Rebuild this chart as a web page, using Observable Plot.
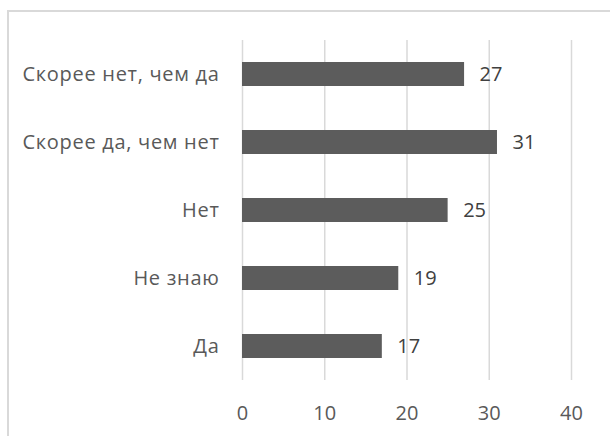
<!DOCTYPE html>
<html><head><meta charset="utf-8">
<script src="https://cdn.jsdelivr.net/npm/d3@7"></script>
<script src="https://cdn.jsdelivr.net/npm/@observablehq/plot@0.6"></script>
<style>
body{margin:0;background:#fff;width:610px;height:436px;overflow:hidden;position:relative;}
#frame{position:absolute;left:7px;top:10px;width:700px;height:600px;border-top:2px solid #d9d9d9;border-left:2px solid #d9d9d9;pointer-events:none;}
#chart{position:absolute;left:0;top:0;}
.ylab text{letter-spacing:0.7px;}
</style></head>
<body>
<div id="chart"></div>
<div id="frame"></div>
<script>
const categories = ["Скорее нет, чем да", "Скорее да, чем нет", "Нет", "Не знаю", "Да"];
const values = [27, 31, 25, 19, 17];
const xTicks = [0, 10, 20, 30, 40];

const data = categories.map((c, i) => ({cat: c, val: values[i]}));

const chart = Plot.plot({
  width: 610,
  height: 436,
  marginTop: 40,
  marginBottom: 56,
  marginLeft: 242,
  marginRight: 39,
  style: {fontFamily: "'Open Sans', sans-serif", fontSize: "20px", color: "#595959", background: "transparent"},
  x: {domain: [0, 40], ticks: xTicks, label: null},
  y: {domain: categories, label: null, paddingInner: 0.65, paddingOuter: 0.325},
  marks: [
    Plot.gridX(xTicks, {stroke: "#d9d9d9", strokeOpacity: 1, strokeWidth: 1.5}),
    Plot.barX(data, {x: "val", y: "cat", fill: "#5c5c5c"}),
    Plot.text(data, {x: "val", y: "cat", text: d => String(d.val), textAnchor: "start", dx: 15, fill: "#404040", fontSize: 20}),
    Plot.axisX({ticks: xTicks, tickSize: 0, tickPadding: 25, fill: "#595959", fontSize: 20}),
    Plot.axisY({tickSize: 0, tickPadding: 23, fill: "#595959", fontSize: 20, className: "ylab"})
  ]
});
document.getElementById("chart").appendChild(chart);
</script>
</body></html>
